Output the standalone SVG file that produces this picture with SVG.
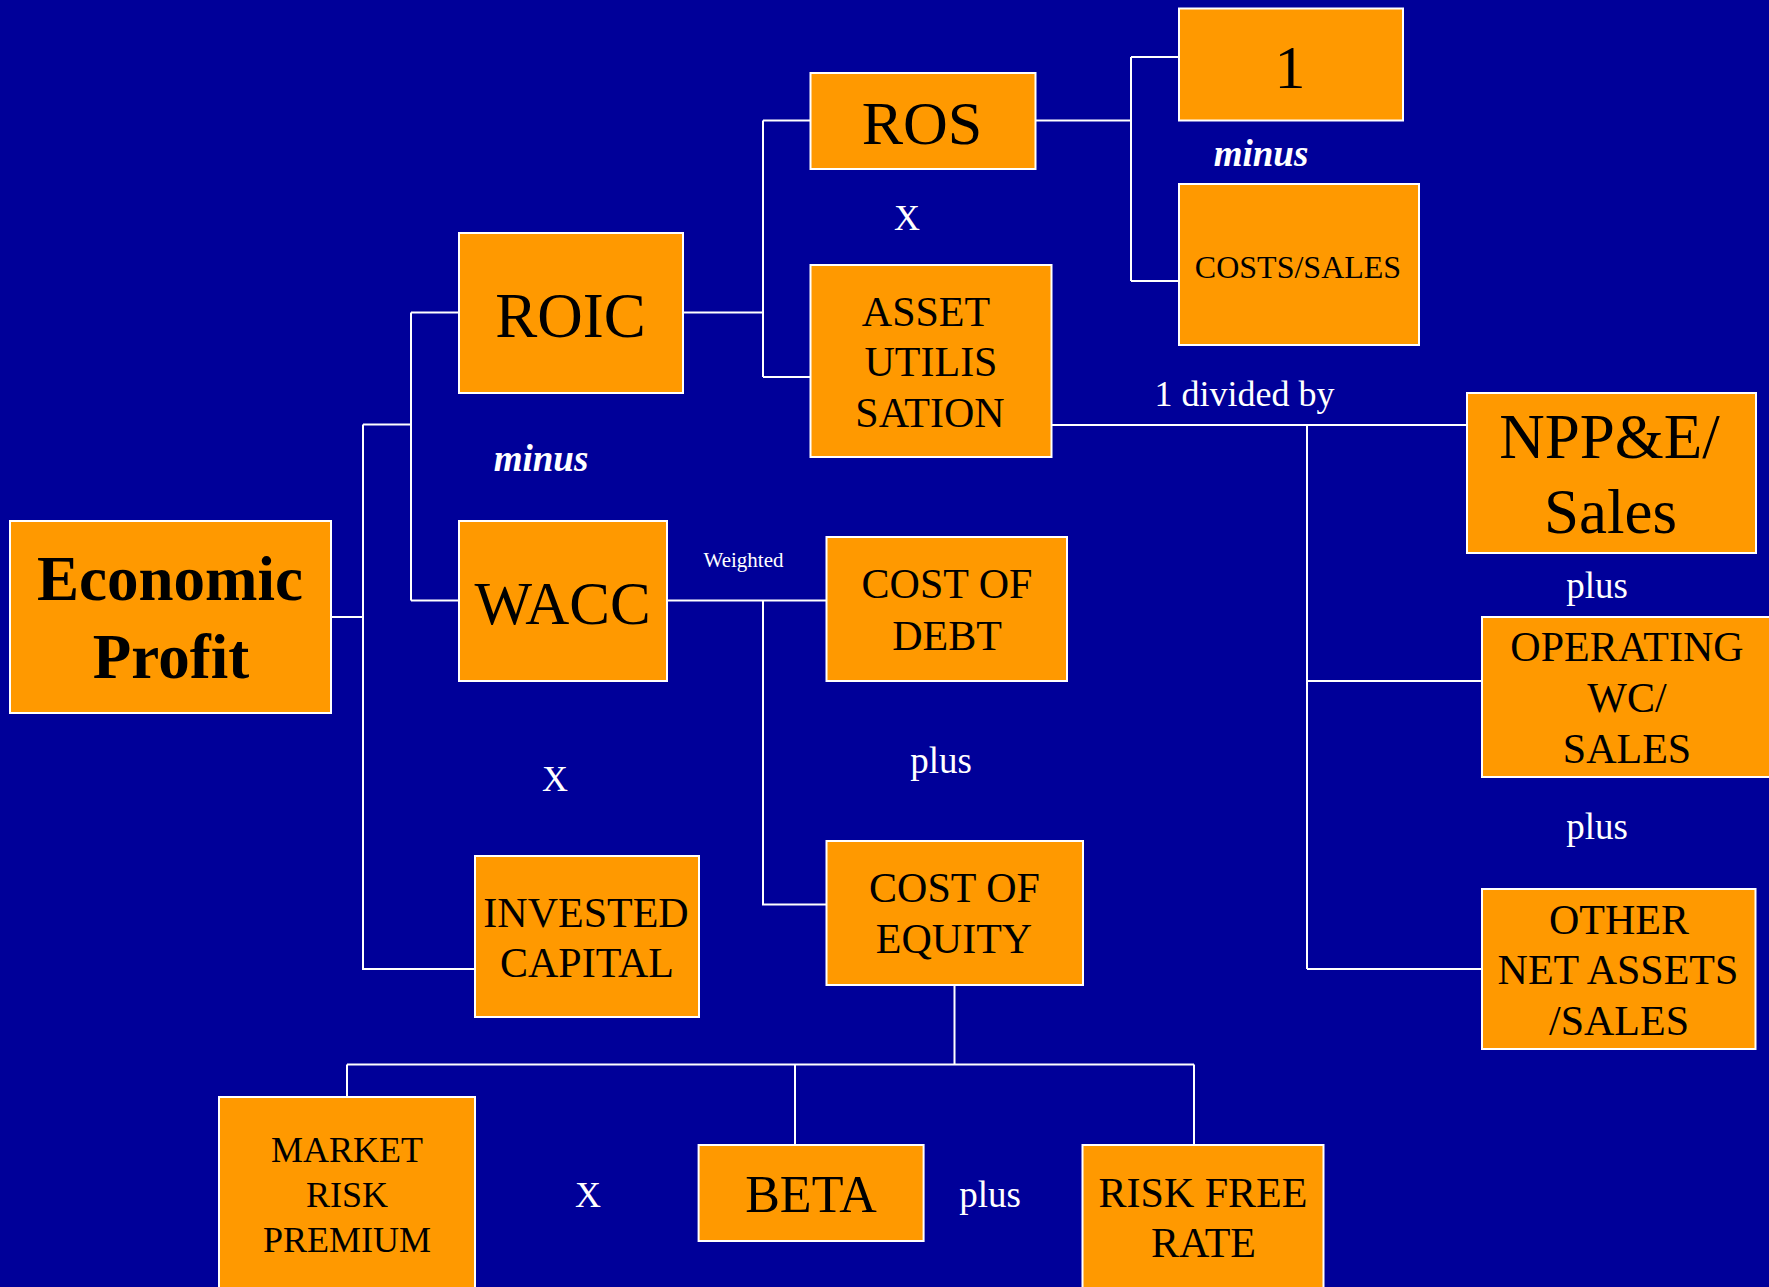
<svg xmlns="http://www.w3.org/2000/svg" width="1769" height="1287" viewBox="0 0 1769 1287">
<style>
.box{fill:#FF9900;stroke:#FFFFFF;stroke-width:2}
.t{font-family:"Liberation Serif","Times New Roman",serif;fill:#000000;text-anchor:middle}
.b{font-weight:bold}
.l{font-family:"Liberation Serif","Times New Roman",serif;fill:#FFFFFF;text-anchor:middle}
.bi{font-weight:bold;font-style:italic}
.c{fill:none;stroke:#FFFFFF;stroke-width:2}
</style>
<rect x="0" y="0" width="1769" height="1287" fill="#000099"/>
<g id="connectors" class="c">
<path d="M331,617 H363 M363,424.5 V969 H475 M363,424.5 H411"/>
<path d="M411,312.5 V600.5 M411,312.5 H459 M411,600.5 H459"/>
<path d="M683,312.5 H763 M763,120.5 V377 M763,120.5 H810.5 M763,377 H810.5"/>
<path d="M1036,120.5 H1131 M1131,57 V281 M1131,57 H1179 M1131,281 H1179"/>
<path d="M1052,425 H1467 M1307,425 V969 M1307,681 H1482 M1307,969 H1482"/>
<path d="M667,600.5 H826.5 M763,600.5 V904.5 H826.5"/>
<path d="M954.5,985 V1064.5 M347,1064.5 H1194 M347,1064.5 V1097 M795,1064.5 V1145 M1194,1064.5 V1145"/>
</g>
<g id="economic-profit">
<rect class="box" x="10" y="521" width="321" height="192"/>
<text class="t b" font-size="63" x="170" y="600">Economic</text>
<text class="t b" font-size="63" x="171" y="678">Profit</text>
</g>
<g id="roic">
<rect class="box" x="459" y="233" width="224" height="160"/>
<text class="t" font-size="63" x="570.5" y="337">ROIC</text>
</g>
<g id="wacc">
<rect class="box" x="459" y="521" width="208" height="160"/>
<text class="t" font-size="61" x="562.5" y="624">WACC</text>
</g>
<g id="invested-capital">
<rect class="box" x="475" y="856" width="224" height="161"/>
<text class="t" font-size="42" x="586" y="926.5">INVESTED</text>
<text class="t" font-size="42" x="587" y="977">CAPITAL</text>
</g>
<g id="ros">
<rect class="box" x="810.5" y="73" width="225" height="96"/>
<text class="t" font-size="62" x="922" y="144">ROS</text>
</g>
<g id="asset-utilisation">
<rect class="box" x="810.5" y="265" width="241" height="192"/>
<text class="t" font-size="42" x="926" y="326">ASSET</text>
<text class="t" font-size="42" x="931" y="376">UTILIS</text>
<text class="t" font-size="42" x="930" y="427">SATION</text>
</g>
<g id="one">
<rect class="box" x="1179" y="8.5" width="224" height="112"/>
<text class="t" font-size="62" x="1290" y="88">1</text>
</g>
<g id="costs-sales">
<rect class="box" x="1179" y="184" width="240" height="161"/>
<text class="t" font-size="32" x="1298" y="278">COSTS/SALES</text>
</g>
<g id="npp-sales">
<rect class="box" x="1467" y="393" width="289" height="160"/>
<text class="t" font-size="63" x="1609.5" y="458">NPP&amp;E/</text>
<text class="t" font-size="63" x="1610.5" y="533">Sales</text>
</g>
<g id="cost-of-debt">
<rect class="box" x="826.5" y="537" width="240.5" height="144"/>
<text class="t" font-size="42" x="947" y="598">COST OF</text>
<text class="t" font-size="42" x="947" y="650">DEBT</text>
</g>
<g id="cost-of-equity">
<rect class="box" x="826.5" y="841" width="256.5" height="144"/>
<text class="t" font-size="42" x="954.5" y="902">COST OF</text>
<text class="t" font-size="42" x="954" y="953">EQUITY</text>
</g>
<g id="operating-wc">
<rect class="box" x="1482" y="617" width="290" height="160"/>
<text class="t" font-size="42" x="1627" y="661">OPERATING</text>
<text class="t" font-size="42" x="1627" y="712">WC/</text>
<text class="t" font-size="42" x="1627" y="763">SALES</text>
</g>
<g id="other-net-assets">
<rect class="box" x="1482" y="889" width="273.5" height="160"/>
<text class="t" font-size="42" x="1619" y="934">OTHER</text>
<text class="t" font-size="42" x="1618" y="984">NET ASSETS</text>
<text class="t" font-size="42" x="1619" y="1035">/SALES</text>
</g>
<g id="market-risk-premium">
<rect class="box" x="219" y="1097" width="256" height="200"/>
<text class="t" font-size="36" x="347" y="1162">MARKET</text>
<text class="t" font-size="36" x="347" y="1207">RISK</text>
<text class="t" font-size="36" x="347" y="1251.6">PREMIUM</text>
</g>
<g id="beta">
<rect class="box" x="698.6" y="1145" width="225" height="96"/>
<text class="t" font-size="52" x="811" y="1212">BETA</text>
</g>
<g id="risk-free-rate">
<rect class="box" x="1082.5" y="1145" width="241" height="150"/>
<text class="t" font-size="42" x="1203" y="1207">RISK FREE</text>
<text class="t" font-size="42" x="1203.5" y="1257">RATE</text>
</g>
<g id="labels">
<text class="l bi" font-size="37" x="541" y="471">minus</text>
<text class="l bi" font-size="37" x="1261" y="166">minus</text>
<text class="l" font-size="36" x="907" y="230">X</text>
<text class="l" font-size="36" x="555" y="790.6">X</text>
<text class="l" font-size="36" x="588" y="1207">X</text>
<text class="l" font-size="21" x="743.5" y="567">Weighted</text>
<text class="l" font-size="36" x="1244.5" y="406">1 divided by</text>
<text class="l" font-size="37" x="1597" y="598">plus</text>
<text class="l" font-size="37" x="1597" y="839">plus</text>
<text class="l" font-size="37" x="941" y="773">plus</text>
<text class="l" font-size="37" x="990" y="1207">plus</text>
</g>
</svg>
